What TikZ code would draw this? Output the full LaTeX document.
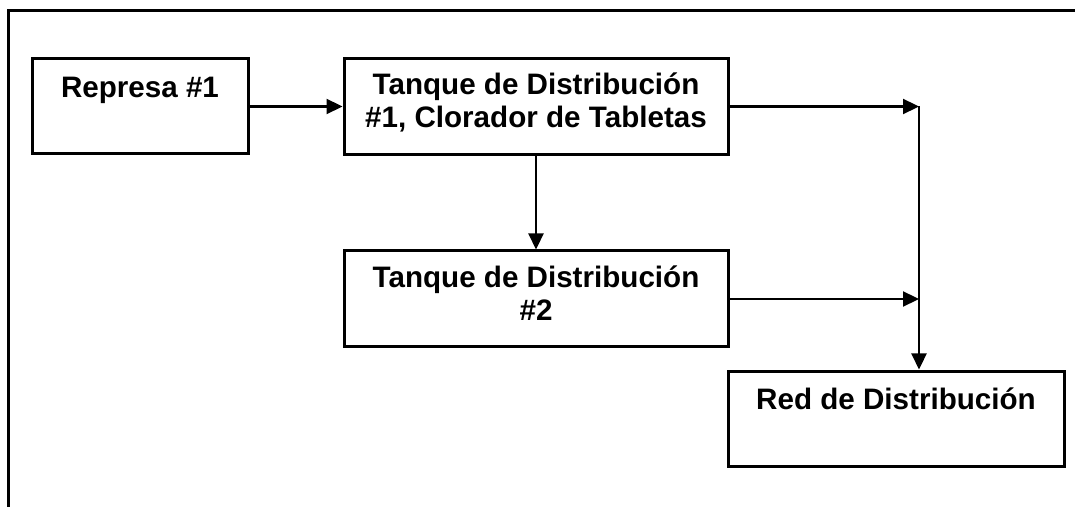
\documentclass[tikz,border=0pt]{standalone}
\usepackage{fontspec}
\setmainfont{Liberation Sans}
\usetikzlibrary{arrows.meta}
\begin{document}
\begin{tikzpicture}[x=0.5pt,y=-0.5pt,
  box/.style={draw,line width=1.5pt,rectangle,inner sep=0pt},
  lbl/.style={font=\fontsize{14.8}{16.8}\selectfont\bfseries,align=center,anchor=base,inner sep=0pt},
  conn/.style={line width=1.1pt,-{Triangle[length=8pt,width=7.5pt]}}]
\useasboundingbox (0,0) rectangle (1075,507);
\draw[line width=1.5pt] (8,507) -- (8,11) -- (1075,11);
% boxes
\node[box,minimum width=108pt,minimum height=47.5pt] (rep) at (140,106.5) {};
\node[box,minimum width=192pt,minimum height=48pt] (t1) at (536,106.5) {};
\node[box,minimum width=192pt,minimum height=48pt] (t2) at (536,299) {};
\node[box,minimum width=168pt,minimum height=47.5pt] (red) at (896,418.5) {};
% labels (base anchor = last line baseline)
\node[lbl] (lrep) at (140,98) {Represa \#1};
\node[lbl] (lt1) at (536,128) {Tanque de Distribución\\\#1, Clorador de Tabletas};
\node[lbl] (lt2) at (536,321) {Tanque de Distribución\\\#2};
\node[lbl] (lred) at (896,409) {Red de Distribución};
% junctions
\coordinate (j1) at (919,106.5);
\coordinate (j2) at (919,299);
% connectors
\draw[conn] (rep.east) -- (t1.west);
\draw[conn] (t1.east) -- (j1);
\draw[conn] (t1.south) -- (t1.south |- t2.north);
\draw[conn] (t2.east) -- (j2);
\draw[conn] (j1) -- (j1 |- red.north);
\end{tikzpicture}
\end{document}
